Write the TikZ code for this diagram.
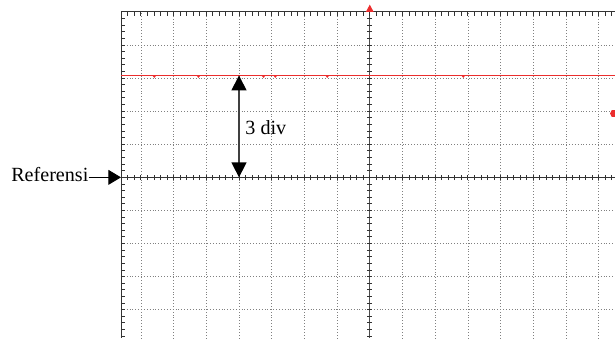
\documentclass[tikz,border=0pt]{standalone}
\usepackage{fontspec}
\setmainfont{Liberation Serif}
\usetikzlibrary{arrows.meta}
\definecolor{tracered}{RGB}{235,45,45}

\begin{document}
\begin{tikzpicture}[x=1cm,y=1.012cm,
    gridline/.style={gray,dotted,line width=0.5pt},
    frameline/.style={black!80,line width=0.8pt},
    trace/.style={tracered,line width=0.9pt},
    label/.style={inner sep=0pt,font=\fontsize{17.5}{21}\selectfont}]
        \def\L{-7.61}
        \def\R{7.5}
        \def\T{5}
        \def\B{-4.86}
        \useasboundingbox (-11.31,\B) rectangle (\R,5.36);

        % grid
        \foreach \y in {-4,-3,-2,-1,1,2,3,4}
            \draw[gridline] (\L,\y) -- (\R,\y);
        \foreach \x in {-7,...,-1,1,2,...,7}
            \draw[gridline] (\x,\B) -- (\x,\T);

        % frame and axes
        \draw[frameline] (\L,\B) -- (\L,\T) -- (\R,\T);
        \draw[frameline] (\L,0) -- (\R,0);
        \draw[frameline,black!70] (0,\B) -- (0,\T);
        \foreach \y in {-4.8,-4.6,...,4.9}{
            \draw[frameline] (\L,\y) -- ++(0.12,0);
            \draw[frameline] (-0.08,\y) -- (0.08,\y);
        }
        \foreach \x in {-7.6,-7.4,...,7.45}{
            \draw[frameline] (\x,\T) -- ++(0,-0.12);
            \draw[frameline] (\x,-0.08) -- (\x,0.08);
        }

        % trace
        \draw[trace] (\L,3.08) -- (\R,3.08);
        \foreach \x in {-6.63,-5.28,-3.29,-2.93,-1.34,2.82}
            \draw[trace] (\x,3.08) -- ++(0.04,-0.05) -- ++(0.04,0.05);
        \fill[tracered] (-0.12,\T) -- (0.12,\T) -- (0,5.22) -- cycle;
        \fill[tracered] (\R,2.03) -- (7.4,2.03) -- (7.35,1.93) -- (7.4,1.83) -- (\R,1.83) -- cycle;

        % annotations
        \coordinate (top) at (-4,3.08);
        \coordinate (bot) at (-4,0);
        \coordinate (refpt) at (\L,0);
        \node[label,anchor=base east] (ref) at (-8.6,-0.13) {Referensi};
        \node[label,anchor=west] (div) at (-3.81,1.49) {3 div};
        \draw[black!75,line width=1.2pt,{Triangle[length=13pt,width=13pt,black]}-{Triangle[length=13pt,width=13pt,black]}] (top) -- (bot);
        \draw[line width=0.8pt,-{Triangle[length=11pt,width=13pt]}] (ref.east |- refpt) -- (refpt);
    \end{tikzpicture}
\end{document}
